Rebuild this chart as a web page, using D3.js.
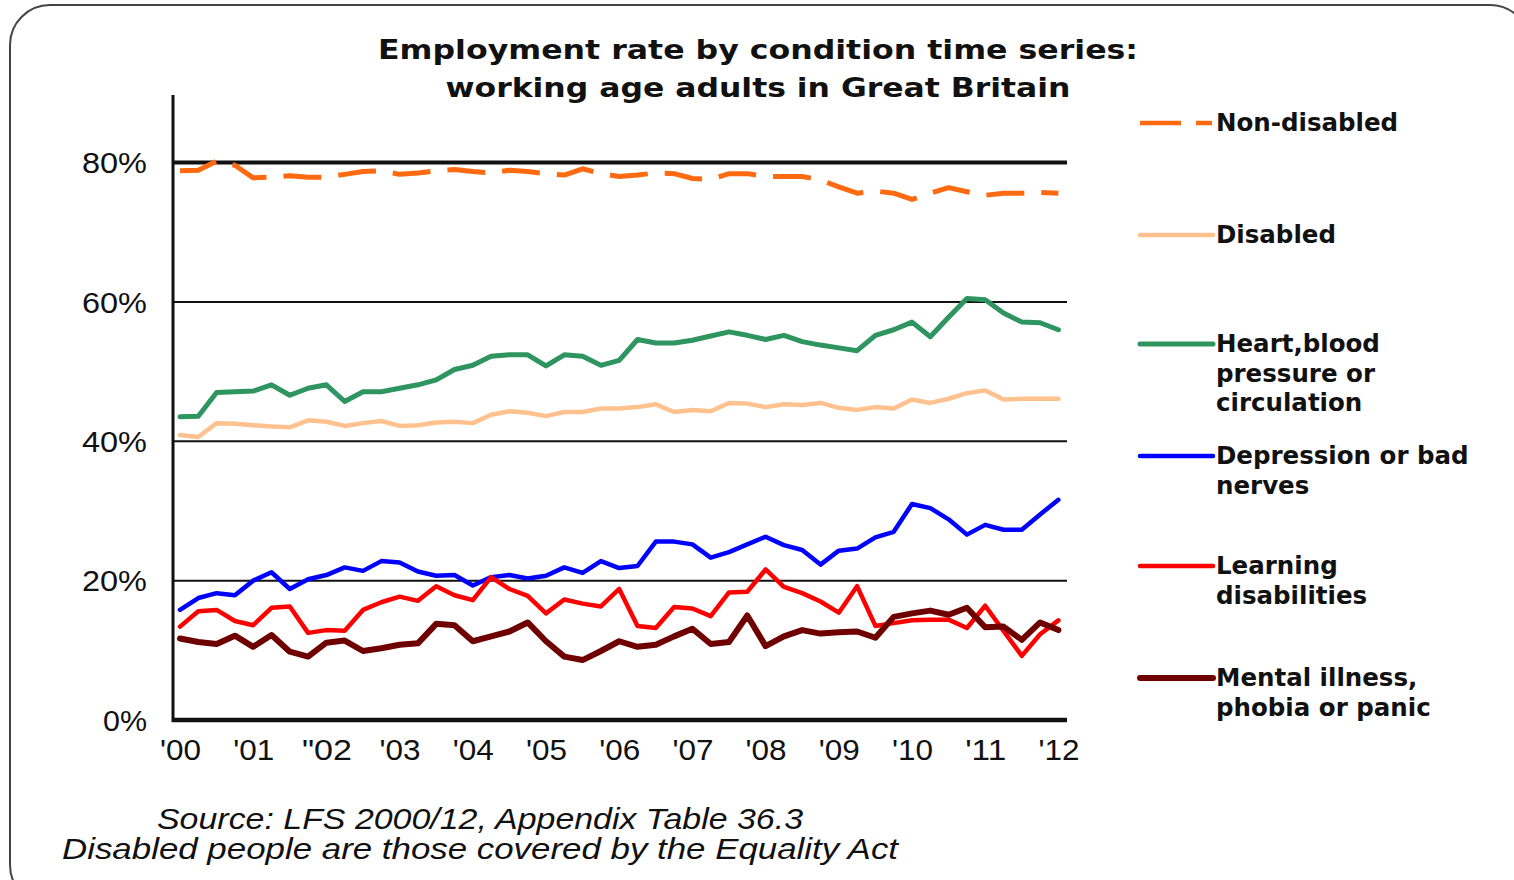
<!DOCTYPE html>
<html>
<head>
<meta charset="utf-8">
<script src="https://cdn.jsdelivr.net/npm/d3@7/dist/d3.min.js"></script>
<style>
  html, body { margin: 0; padding: 0; background: #fff; }
  svg { display: block; }
</style>
</head>
<body>
<svg id="chart" width="1514" height="880"></svg>
<script>
// ---- Data (quarterly, 2000 Q1 .. 2012 Q1), employment rate % ----
const yearLabels = ["'00", "'01", '"02', "'03", "'04", "'05", "'06", "'07", "'08", "'09", "'10", "'11", "'12"];
const yTicks = [0, 20, 40, 60, 80];

const nonDisabled = [78.8, 78.9, 80.2, 79.6, 77.8, 77.9, 78.1, 77.9, 77.9, 78.3, 78.7, 78.8, 78.3, 78.5, 78.8, 79.0,
  78.7, 78.5, 78.9, 78.7, 78.4, 78.2, 79.1, 78.4, 78.0, 78.2, 78.5, 78.4, 77.7, 77.6, 78.4, 78.4,
  78.0, 78.0, 78.0, 77.5, 76.5, 75.6, 75.9, 75.6, 74.7, 75.6, 76.4, 75.8, 75.3, 75.6, 75.6, 75.7, 75.6];
const disabled = [40.9, 40.6, 42.6, 42.5, 42.3, 42.1, 42.0, 43.0, 42.8, 42.2, 42.6, 42.9, 42.2, 42.3, 42.7, 42.8,
  42.6, 43.8, 44.3, 44.1, 43.6, 44.2, 44.2, 44.7, 44.7, 44.9, 45.3, 44.2, 44.5, 44.3, 45.5, 45.4,
  44.9, 45.3, 45.2, 45.5, 44.8, 44.5, 44.9, 44.7, 46.0, 45.5, 46.1, 46.9, 47.3, 46.0, 46.1, 46.1, 46.1];
const heart = [43.5, 43.6, 47.0, 47.1, 47.2, 48.1, 46.6, 47.6, 48.1, 45.7, 47.1, 47.1, 47.6, 48.1, 48.8, 50.3,
  50.9, 52.2, 52.4, 52.4, 50.8, 52.4, 52.2, 50.9, 51.6, 54.6, 54.1, 54.1, 54.5, 55.1, 55.7, 55.2,
  54.6, 55.2, 54.3, 53.8, 53.4, 53.0, 55.2, 56.0, 57.1, 55.0, 57.8, 60.5, 60.3, 58.4, 57.1, 57.0, 56.0];
const depression = [15.8, 17.5, 18.2, 17.9, 20.0, 21.2, 18.8, 20.2, 20.8, 21.9, 21.4, 22.8, 22.6, 21.3, 20.7, 20.8,
  19.3, 20.5, 20.8, 20.3, 20.7, 21.9, 21.1, 22.8, 21.8, 22.1, 25.6, 25.6, 25.2, 23.3, 24.1, 25.2,
  26.3, 25.1, 24.4, 22.3, 24.3, 24.6, 26.2, 27.0, 31.0, 30.4, 28.8, 26.6, 28.0, 27.3, 27.3, 29.5, 31.6];
const learning = [13.4, 15.6, 15.8, 14.2, 13.6, 16.1, 16.3, 12.5, 12.9, 12.8, 15.8, 16.9, 17.7, 17.1, 19.2, 17.9,
  17.2, 20.5, 18.8, 17.8, 15.3, 17.3, 16.7, 16.3, 18.8, 13.5, 13.2, 16.2, 16.0, 14.9, 18.3, 18.4,
  21.6, 19.1, 18.2, 17.0, 15.4, 19.2, 13.5, 13.9, 14.3, 14.4, 14.4, 13.2, 16.4, 12.8, 9.2, 12.3, 14.3];
const mental = [11.7, 11.2, 10.9, 12.1, 10.5, 12.2, 9.8, 9.1, 11.1, 11.4, 9.9, 10.3, 10.8, 11.0, 13.8, 13.6,
  11.3, 12.0, 12.7, 14.0, 11.3, 9.1, 8.6, 9.9, 11.3, 10.5, 10.8, 12.0, 13.1, 10.9, 11.2, 15.0,
  10.6, 12.0, 12.9, 12.4, 12.6, 12.7, 11.8, 14.8, 15.3, 15.7, 15.1, 16.1, 13.3, 13.4, 11.5, 14.0, 12.9];

const seriesNames = ["Non-disabled", "Disabled", "Heart,blood pressure or circulation",
  "Depression or bad nerves", "Learning disabilities", "Mental illness, phobia or panic"];
const legendLines = [["Non-disabled"], ["Disabled"], ["Heart,blood", "pressure or", "circulation"],
  ["Depression or bad", "nerves"], ["Learning", "disabilities"], ["Mental illness,", "phobia or panic"]];
const seriesValues = [nonDisabled, disabled, heart, depression, learning, mental];
const seriesColors = ["#FF6A10", "#FFC28E", "#2E9460", "#0000FF", "#FF0000", "#6E0000"];
const seriesWidths = [5, 4.5, 5, 4.5, 4.5, 6];
const seriesDash = ["38,17", null, null, null, null, null];

// ---- Drawing ----
const svg = d3.select("#chart");

// outer rounded frame
svg.append("rect")
  .attr("x", 10).attr("y", 5).attr("width", 1520).attr("height", 900)
  .attr("rx", 40).attr("ry", 40)
  .attr("fill", "none").attr("stroke", "#444").attr("stroke-width", 2);

const plot = { left: 173, right: 1067, top: 95, bottom: 720 };
const x = d3.scaleLinear().domain([0, 48]).range([180, 1058.4]);
const y = d3.scaleLinear().domain([0, 80]).range([720, 162.5]);

// gridlines
const grid = svg.append("g");
grid.selectAll("line").data(yTicks.filter(d => d > 0)).join("line")
  .attr("x1", plot.left).attr("x2", plot.right)
  .attr("y1", d => y(d)).attr("y2", d => y(d))
  .attr("stroke", "#111")
  .attr("stroke-width", d => d === 80 ? 4 : 2);

// y axis labels
const yAxis = d3.axisLeft(y).tickValues(yTicks).tickFormat(d => d + "%").tickSize(0).tickPadding(0);
const yg = svg.append("g").attr("transform", `translate(147,0)`).call(yAxis);
yg.select(".domain").remove();
yg.selectAll("text")
  .attr("font-family", "Liberation Sans, Arial, sans-serif")
  .attr("font-size", 29).attr("fill", "#111")
  .attr("dy", "0.35em")
  .each(function(d) {
    d3.select(this).attr("textLength", d === 0 ? 44 : 65).attr("lengthAdjust", "spacingAndGlyphs");
  });

// x axis labels
const xAxis = d3.axisBottom(x).tickValues(d3.range(0, 49, 4))
  .tickFormat((d, i) => yearLabels[i]).tickSize(0).tickPadding(0);
const xg = svg.append("g").attr("transform", `translate(0,739)`).call(xAxis);
xg.select(".domain").remove();
xg.selectAll("text")
  .attr("font-family", "Liberation Sans, Arial, sans-serif")
  .attr("font-size", 29).attr("fill", "#111")
  .attr("dy", "0.71em")
  .attr("textLength", (d, i) => i === 2 ? 50 : 41).attr("lengthAdjust", "spacingAndGlyphs");

// series lines
const line = d3.line().x((d, i) => x(i)).y(d => y(d));
const lines = svg.append("g");
seriesValues.forEach((vals, k) => {
  lines.append("path")
    .datum(vals)
    .attr("d", line)
    .attr("fill", "none")
    .attr("stroke", seriesColors[k])
    .attr("stroke-width", seriesWidths[k])
    .attr("stroke-linejoin", "round")
    .attr("stroke-linecap", seriesDash[k] ? "butt" : "round")
    .attr("stroke-dasharray", seriesDash[k]);
});

// axes lines
svg.append("line").attr("x1", plot.left).attr("x2", plot.left).attr("y1", plot.top).attr("y2", plot.bottom + 2)
  .attr("stroke", "#111").attr("stroke-width", 3);
svg.append("line").attr("x1", plot.left - 1).attr("x2", plot.right).attr("y1", y(0)).attr("y2", y(0))
  .attr("stroke", "#111").attr("stroke-width", 4.5);

// title
const title = svg.append("g").attr("font-family", "DejaVu Sans, Verdana, sans-serif")
  .attr("font-weight", "bold").attr("font-size", 26).attr("fill", "#111").attr("text-anchor", "middle");
title.append("text").attr("x", 758).attr("y", 59).text("Employment rate by condition time series:")
  .attr("textLength", 760).attr("lengthAdjust", "spacingAndGlyphs");
title.append("text").attr("x", 758).attr("y", 97).text("working age adults in Great Britain")
  .attr("textLength", 625).attr("lengthAdjust", "spacingAndGlyphs");

// legend
const legendY = [123, 235, 344, 456, 566, 678];
const leg = svg.append("g");
seriesNames.forEach((name, k) => {
  const g = leg.append("g");
  if (seriesDash[k]) {
    g.append("line").attr("x1", 1140).attr("x2", 1181).attr("y1", legendY[k]).attr("y2", legendY[k])
      .attr("stroke", seriesColors[k]).attr("stroke-width", 4.5);
    g.append("line").attr("x1", 1196).attr("x2", 1212).attr("y1", legendY[k]).attr("y2", legendY[k])
      .attr("stroke", seriesColors[k]).attr("stroke-width", 4.5);
  } else {
    g.append("line").attr("x1", 1140).attr("x2", 1213).attr("y1", legendY[k]).attr("y2", legendY[k])
      .attr("stroke", seriesColors[k]).attr("stroke-width", seriesWidths[k])
      .attr("stroke-linecap", "round");
  }
  const t = g.append("text")
    .attr("font-family", "DejaVu Sans, Verdana, sans-serif").attr("font-weight", "bold")
    .attr("font-size", 24.5).attr("fill", "#111");
  legendLines[k].forEach((ln, j) => {
    t.append("tspan").attr("x", 1216).attr("y", legendY[k] + 8 + j * 29.5).text(ln);
  });
});

// source notes
const notes = svg.append("g").attr("font-family", "Liberation Sans, Arial, sans-serif")
  .attr("font-style", "italic").attr("font-size", 30).attr("fill", "#111");
notes.append("text").attr("x", 157).attr("y", 829).text("Source: LFS 2000/12, Appendix Table 36.3")
  .attr("textLength", 646).attr("lengthAdjust", "spacingAndGlyphs");
notes.append("text").attr("x", 62).attr("y", 859).text("Disabled people are those covered by the Equality Act")
  .attr("textLength", 836).attr("lengthAdjust", "spacingAndGlyphs");
</script>
</body>
</html>
